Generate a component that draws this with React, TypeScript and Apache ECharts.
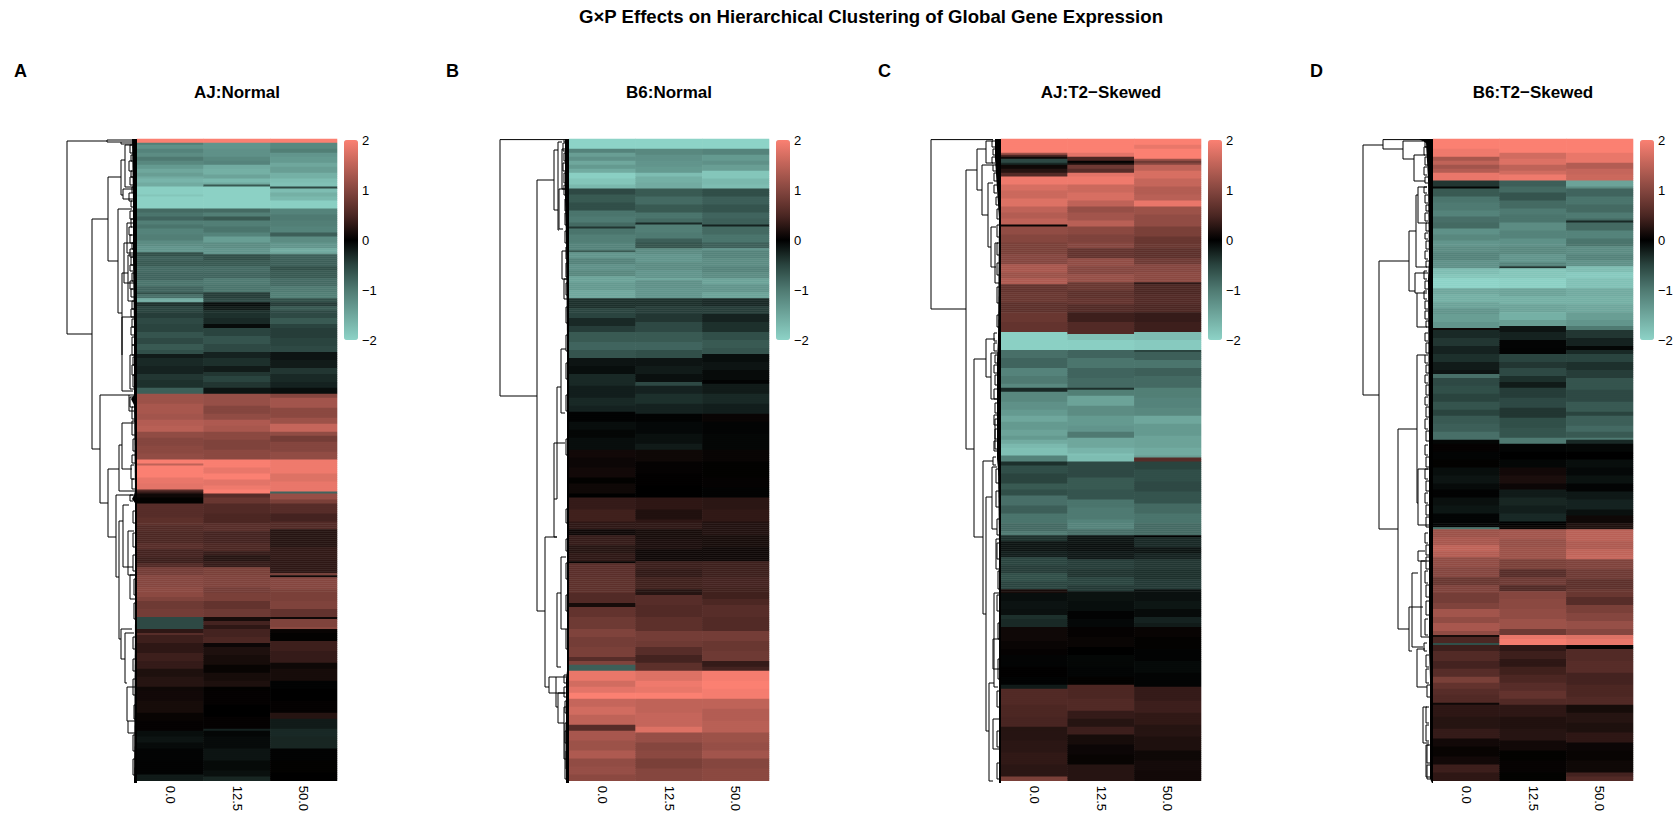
import React, { useEffect, useRef } from "react";
import * as echarts from "echarts";

type Band = [number, number];
const ROWS = 322;
const doses = ["0.0", "12.5", "50.0"];
const colorStops = ["#8DD3C7", "#6fa79d", "#4f7a72", "#2a443f", "#000000", "#4c2723", "#85463f", "#bf6358", "#FB8072"];
const barTicks = [-2, -1, 0, 1, 2];
const panelTitles = ["AJ:Normal", "B6:Normal", "AJ:T2\u2212Skewed", "B6:T2\u2212Skewed"];
const panelLetters = ["A", "B", "C", "D"];

// Each band: [end row, z-score]
const aj0: Band[] = [[2,2],[3,-1.05],[5,-1.25],[7,-1.1],[9,-1.2],[11,-1],[13,-1.15],[15,-1.35],[17,-1.5],[19,-1.4],[20,-1.55],[22,-1.65],[24,-1.55],[28,-1.95],[29,-1.85],[35,-1.98],[37,-0.85],[39,-0.95],[41,-0.8],[43,-1.05],[45,-0.95],[48,-1.1],[51,-1.05],[54,-1.2],[57,-1.3],[59,-0.6],[61,-0.75],[64,-0.7],[67,-0.85],[71,-0.8],[74,-0.95],[77,-0.8],[78,-0.6],[80,-0.9],[82,-1.55],[84,-0.35],[87,-0.5],[90,-0.45],[93,-0.55],[97,-0.5],[100,-0.65],[103,-0.55],[106,-0.7],[108,-0.6],[110,-0.2],[114,-0.3],[118,-0.25],[121,-0.4],[125,-0.35],[128,-0.75],[133,1.2],[138,1.3],[141,1.25],[144,1.4],[147,1.45],[150,1.1],[154,1],[158,1.05],[161,1.1],[163,1.98],[164,1.5],[170,2],[173,1.85],[176,1.8],[177,0.6],[178,0.35],[180,0.1],[183,0.02],[190,0.6],[194,0.65],[197,0.55],[203,0.5],[206,0.6],[210,0.45],[213,0.4],[215,0.55],[219,0.85],[225,1],[230,1.05],[232,0.95],[236,0.8],[240,0.85],[246,-0.55],[248,0.3],[249,0.6],[253,0.4],[258,0.3],[262,0.4],[266,0.35],[270,0.2],[275,0.25],[277,0.1],[282,0.12],[288,0.15],[292,0.05],[297,0.03],[300,-0.1],[303,-0.15],[306,-0.08],[312,-0.03],[319,-0.02],[322,-0.2]];
const aj125: Band[] = [[2,2],[5,-1.3],[9,-1.25],[11,-1.15],[13,-1.1],[15,-1.55],[18,-1.6],[20,-1.45],[22,-1.7],[23,-1.55],[24,-0.7],[35,-1.98],[37,-0.85],[39,-1.05],[41,-0.7],[44,-1.05],[47,-0.95],[49,-1.1],[52,-1.4],[55,-1.2],[58,-1.3],[61,-0.6],[64,-0.7],[67,-0.85],[70,-0.8],[73,-1],[77,-0.95],[80,-0.45],[82,-0.55],[84,-0.1],[86,-0.2],[90,-0.35],[93,-0.3],[95,-0.08],[99,-0.5],[103,-0.65],[107,-0.55],[110,-0.25],[114,-0.35],[117,-0.2],[119,-0.4],[122,-0.5],[125,-0.4],[128,-0.15],[134,1.15],[138,1],[141,1.1],[144,1.35],[147,1.3],[151,1.05],[156,0.95],[161,1.05],[165,1.98],[168,1.85],[171,2],[174,1.8],[176,1.9],[178,2],[180,0.6],[183,0.75],[188,0.55],[193,0.5],[197,0.6],[203,0.45],[207,0.5],[209,0.35],[212,0.25],[215,0.35],[219,0.9],[225,0.95],[228,0.85],[232,0.9],[236,0.7],[240,0.8],[242,0.15],[244,0.45],[246,0.3],[250,0.45],[253,0.5],[255,0.08],[259,0.2],[264,0.15],[268,0.05],[272,0.15],[275,0.2],[277,0.02],[284,0.03],[290,0],[296,0.03],[297,-0.25],[300,-0.05],[306,-0.08],[312,-0.15],[317,-0.07],[320,-0.12],[322,-0.28]];
const aj50: Band[] = [[2,2],[5,-1.15],[7,-1.05],[9,-1.3],[12,-1.35],[14,-1.5],[17,-1.4],[20,-1.6],[22,-1.75],[24,-1.8],[25,-0.55],[27,-1.75],[29,-1.6],[31,-1.7],[35,-1.95],[38,-1.1],[41,-1],[44,-1.05],[47,-1.1],[49,-0.75],[52,-1.2],[55,-1.3],[57,-1.55],[58,-1.4],[64,-0.75],[66,-0.6],[70,-0.7],[74,-0.85],[77,-1],[80,-1.05],[82,-0.6],[84,-0.45],[86,-0.7],[90,-0.55],[93,-0.7],[95,-0.5],[100,-0.45],[104,-0.5],[107,-0.55],[111,-0.15],[115,-0.2],[118,-0.4],[122,-0.3],[125,-0.25],[128,-0.1],[130,1],[135,1.25],[140,1.05],[143,1.2],[147,1.55],[149,1.1],[152,0.85],[157,1],[161,1.1],[168,1.9],[172,1.75],[177,1.85],[178,-0.8],[181,1.15],[183,0.9],[188,0.6],[192,0.45],[196,0.55],[205,0.25],[211,0.32],[218,0.3],[219,0.9],[220,0.1],[226,1],[232,0.9],[236,0.95],[240,0.7],[241,0.1],[245,0.95],[246,1.05],[248,0.05],[252,0.02],[257,0.4],[263,0.35],[266,0.1],[272,0.15],[276,-0.02],[282,0],[288,0.03],[291,0.25],[296,-0.2],[300,-0.3],[306,-0.28],[312,-0.02],[318,0.02],[322,0]];
const b60n: Band[] = [[5,-2],[7,-1.1],[9,-1.4],[11,-1.25],[13,-1.5],[15,-1.35],[17,-1.55],[20,-1.95],[23,-1.85],[25,-1.7],[28,-0.55],[32,-0.7],[36,-0.6],[39,-0.95],[42,-1],[44,-0.85],[45,-0.4],[48,-0.95],[52,-1.05],[56,-1.1],[57,-0.7],[60,-1.3],[63,-1.1],[66,-1.25],[69,-1.15],[72,-1.45],[76,-1.35],[80,-1.5],[85,-0.35],[90,-0.5],[94,-0.3],[97,-0.45],[102,-0.7],[106,-0.8],[110,-0.65],[114,-0.15],[118,-0.1],[124,-0.3],[130,-0.22],[134,-0.3],[137,-0.25],[142,-0.02],[146,-0.1],[150,-0.05],[156,-0.1],[160,0.12],[165,0.08],[170,0.12],[173,0.02],[178,0.1],[180,0],[186,0.35],[192,0.42],[196,0.3],[199,0.1],[204,0.35],[208,0.25],[212,0.3],[213,0.05],[220,0.62],[228,0.65],[233,0.55],[235,0.15],[240,0.7],[246,0.8],[250,0.95],[255,0.85],[260,0.9],[262,0.6],[264,0.95],[267,-0.75],[272,1.85],[275,1.65],[278,1.8],[281,2],[285,1.55],[289,1.65],[294,1.5],[297,0.6],[302,1.3],[307,1.2],[311,1.35],[315,1.1],[319,1.15],[322,1.05]];
const b6125n: Band[] = [[5,-2],[8,-1.15],[11,-1.25],[14,-1.3],[17,-1.35],[19,-1.75],[22,-1.6],[25,-1.55],[29,-0.7],[33,-0.85],[37,-0.7],[40,-0.95],[42,-0.85],[43,-0.3],[47,-1.05],[50,-1],[52,-0.75],[55,-0.65],[58,-1.2],[62,-1.3],[66,-1.2],[70,-1.3],[71,-1.5],[75,-1.25],[80,-1.3],[84,-0.35],[88,-0.45],[92,-0.4],[97,-0.55],[102,-0.7],[106,-0.8],[110,-0.6],[114,-0.15],[118,-0.2],[122,-0.12],[124,-0.55],[128,-0.25],[133,-0.35],[138,-0.25],[142,-0.02],[148,-0.06],[153,-0.12],[156,-0.2],[162,0.1],[168,0.03],[174,0.01],[180,0],[186,0.3],[191,0.22],[196,0.3],[201,0.15],[206,0.18],[212,0.1],[216,0.38],[220,0.32],[226,0.42],[229,0.25],[234,0.6],[240,0.55],[247,0.65],[252,0.85],[255,0.8],[259,0.6],[263,0.45],[267,0.65],[272,1.75],[275,1.9],[278,1.85],[281,2],[288,1.5],[295,1.55],[298,1.75],[303,1.15],[307,1],[311,1.05],[316,0.9],[322,1]];
const b650n: Band[] = [[5,-2],[8,-1.1],[11,-1.35],[13,-1.25],[16,-1.4],[20,-1.85],[23,-1.7],[25,-1.75],[29,-0.6],[33,-0.75],[37,-0.65],[40,-0.8],[43,-0.75],[44,-0.25],[48,-0.85],[52,-0.95],[55,-0.75],[56,-1.3],[60,-1.1],[64,-1.2],[67,-1.1],[70,-1.2],[73,-1.45],[77,-1.3],[80,-1.45],[84,-0.3],[88,-0.45],[92,-0.25],[97,-0.35],[101,-0.6],[105,-0.7],[108,-0.65],[112,-0.1],[116,-0.15],[121,-0.08],[123,-0.02],[128,-0.2],[133,-0.3],[138,-0.22],[142,0.06],[148,-0.03],[156,-0.05],[162,0.06],[170,0.02],[175,0.03],[180,-0.02],[186,0.28],[192,0.32],[199,0.22],[205,0.15],[212,0.1],[220,0.4],[225,0.45],[231,0.42],[234,0.5],[240,0.6],[247,0.55],[252,0.85],[257,0.75],[262,0.8],[265,0.35],[267,0.45],[272,1.95],[276,2],[281,1.95],[286,1.5],[292,1.4],[298,1.45],[303,1.2],[307,1.15],[311,1.25],[316,1],[322,1.05]];
const aj0t: Band[] = [[7,2],[8,1.2],[9,0.5],[10,0.1],[12,-0.55],[13,-0.3],[15,0.1],[17,0.25],[19,0.55],[23,1.9],[26,1.7],[30,1.6],[34,1.75],[37,1.5],[40,1.4],[43,1.5],[44,0.05],[48,1.1],[52,1],[58,0.9],[63,1],[67,1.3],[70,1.2],[73,1.35],[77,0.7],[82,0.75],[87,0.65],[92,0.75],[97,0.7],[106,-1.97],[110,-0.9],[115,-0.8],[119,-1.1],[123,-1],[125,-1.15],[127,-0.3],[132,-1.15],[136,-1.25],[139,-1.35],[142,-1.5],[146,-1.35],[149,-1.45],[151,-1.35],[153,-1.55],[155,-1.7],[159,-1.78],[162,-1.1],[164,-0.35],[168,-0.6],[173,-0.5],[176,-0.7],[179,-0.6],[184,-0.9],[188,-0.75],[193,-0.95],[197,-0.85],[199,-1],[202,-0.35],[207,-0.15],[210,-0.22],[214,-0.5],[218,-0.45],[222,-0.6],[226,-0.5],[228,0.15],[232,-0.1],[236,-0.14],[239,-0.12],[241,-0.35],[245,-0.3],[252,0.1],[256,0.06],[259,0.03],[265,-0.03],[270,0.01],[274,-0.02],[276,-0.2],[284,0.55],[290,0.5],[295,0.48],[302,0.25],[308,0.28],[314,0.32],[320,0.28],[322,0.9]];
const aj125t: Band[] = [[7,2],[9,1.8],[11,0.5],[12,-0.02],[13,0.2],[15,0.8],[17,0.6],[19,1.8],[23,1.9],[27,1.6],[31,1.7],[34,1.5],[37,1.15],[41,1.25],[44,1.45],[48,1.05],[52,0.95],[55,1],[60,0.7],[64,1.1],[68,1],[72,1.15],[76,0.75],[80,0.65],[83,0.7],[87,0.55],[92,0.4],[98,0.55],[101,-1.8],[106,-1.95],[110,-0.8],[115,-0.95],[120,-0.8],[125,-0.85],[126,-0.35],[129,-1.05],[134,-1.45],[139,-1.2],[144,-1.35],[147,-1.3],[150,-1],[155,-1.5],[158,-1.65],[159,-1.8],[162,-1.75],[164,-0.55],[170,-0.55],[176,-0.7],[181,-0.65],[185,-0.95],[191,-1],[196,-1.1],[199,-0.9],[203,-0.15],[207,-0.12],[211,-0.18],[216,-0.45],[220,-0.38],[224,-0.5],[227,-0.42],[232,-0.13],[237,-0.1],[241,-0.02],[245,-0.06],[250,0.03],[255,0.06],[259,0],[265,-0.05],[270,-0.04],[274,0.02],[281,0.5],[287,0.55],[291,0.35],[295,0.25],[299,0.4],[304,0.15],[309,0.08],[314,0.05],[317,0.25],[322,0.25]];
const aj50t: Band[] = [[3,2],[5,1.85],[10,2],[11,1.2],[12,0.8],[13,1],[16,1.5],[20,1.7],[24,1.55],[28,1.4],[31,1.45],[34,1.85],[38,1.2],[44,1.1],[49,0.9],[55,0.75],[60,0.65],[63,0.8],[67,1],[72,1.05],[73,0.3],[78,0.5],[83,0.55],[87,0.5],[92,0.35],[97,0.4],[101,-1.75],[106,-1.9],[107,-0.5],[111,-0.75],[115,-0.95],[119,-0.75],[125,-0.85],[130,-1.05],[135,-1.1],[139,-1.15],[143,-1.5],[149,-1.35],[155,-1.45],[159,-1.55],[160,-1.4],[162,0.6],[166,-0.5],[172,-0.6],[177,-0.55],[183,-0.65],[188,-0.85],[193,-0.95],[199,-0.85],[200,0],[205,-0.3],[208,-0.15],[211,-0.25],[216,-0.4],[221,-0.35],[226,-0.42],[232,-0.12],[236,-0.16],[240,-0.08],[243,-0.25],[245,-0.2],[250,0.05],[256,0.02],[262,-0.02],[268,-0.07],[275,-0.03],[282,0.35],[288,0.4],[294,0.32],[300,0.25],[307,0.2],[312,0.1],[317,0.14],[322,0.12]];
const b60t: Band[] = [[5,2],[9,1.9],[11,1.3],[13,1.5],[15,1.25],[17,1.4],[21,1.85],[24,-0.4],[25,-0.05],[29,-0.7],[32,-0.95],[36,-1],[39,-1.1],[42,-0.9],[45,-0.85],[48,-1.25],[51,-1.15],[54,-1.3],[57,-1.2],[61,-1.1],[65,-1.25],[68,-1.75],[70,-1.85],[75,-2],[78,-1.5],[82,-1.6],[85,-1.45],[88,-1.3],[92,-1.4],[95,-1.3],[96,0.1],[100,-0.3],[104,-0.4],[108,-0.25],[112,-0.35],[116,-0.2],[118,-0.15],[120,-0.9],[124,-0.55],[128,-0.6],[132,-0.5],[136,-0.65],[139,-0.5],[143,-0.7],[147,-0.75],[151,-0.9],[153,-0.05],[157,0.03],[161,-0.03],[165,0.02],[169,-0.1],[173,-0.15],[176,-0.08],[180,-0.02],[184,-0.12],[188,-0.16],[192,-0.04],[195,-0.03],[196,-0.95],[200,1.2],[204,1.3],[207,1.5],[210,1.4],[215,1.1],[220,1],[224,0.75],[228,0.95],[233,0.85],[236,0.95],[240,1.25],[243,1.1],[247,1.3],[249,1.1],[250,0.15],[253,0.5],[254,-0.6],[257,0.4],[262,0.55],[266,0.45],[270,0.6],[273,0.9],[276,0.7],[279,0.6],[283,0.55],[284,0.1],[290,0.3],[296,0.25],[301,0.35],[305,0.12],[310,0.05],[314,0.12],[318,0.4],[322,0.3]];
const b6125t: Band[] = [[7,2],[10,1.65],[13,1.75],[16,1.5],[18,1.65],[21,1.9],[24,-0.75],[27,-0.85],[31,-0.65],[35,-0.85],[38,-1],[42,-0.95],[46,-1.2],[50,-1.1],[54,-1.25],[58,-1.15],[62,-1.3],[64,-1.1],[65,-0.4],[70,-1.85],[75,-1.97],[79,-1.45],[83,-1.6],[87,-1.45],[91,-1.6],[94,-1.4],[97,-0.15],[101,-0.25],[105,-0.03],[108,-0.02],[112,-0.5],[115,-0.4],[119,-0.55],[122,-0.35],[125,-0.2],[130,-0.45],[135,-0.55],[140,-0.4],[145,-0.6],[150,-0.65],[153,-1],[157,-0.03],[161,0],[165,-0.05],[169,0.12],[173,0.18],[176,0.08],[180,-0.2],[184,-0.28],[188,-0.22],[192,-0.3],[194,0],[196,0.05],[201,1.25],[205,1.15],[211,1.2],[216,0.9],[220,0.6],[224,0.8],[227,0.55],[231,1],[236,1.05],[241,1.1],[246,1.2],[249,0.8],[251,1.85],[254,1.95],[257,0.3],[261,0.4],[265,0.3],[269,0.42],[273,0.5],[277,0.6],[281,0.7],[284,0.55],[290,0.3],[296,0.22],[302,0.25],[307,0.12],[312,0.02],[318,0.04],[322,0.02]];
const b650t: Band[] = [[7,2],[12,1.85],[15,1.4],[18,1.55],[21,1.6],[24,-1.45],[25,-1.2],[29,-0.8],[33,-0.95],[37,-0.85],[40,-1],[41,-0.85],[42,-0.3],[46,-0.85],[50,-1.1],[54,-0.95],[58,-1.2],[61,-1.1],[64,-1.25],[67,-1.75],[70,-1.9],[75,-1.8],[79,-1.55],[83,-1.6],[87,-1.5],[91,-1.4],[94,-1.3],[96,-1],[100,-0.4],[104,-0.25],[106,-0.05],[108,-0.3],[112,-0.5],[116,-0.35],[120,-0.45],[126,-0.65],[132,-0.55],[137,-0.7],[139,-0.5],[144,-0.75],[147,-0.85],[150,-0.7],[151,-1],[153,-0.3],[157,-0.05],[161,0],[165,-0.1],[169,-0.06],[173,-0.13],[177,-0.03],[181,-0.18],[186,-0.25],[189,-0.12],[193,0.1],[196,0.2],[202,1.45],[206,1.35],[209,1.5],[211,1.55],[216,0.95],[221,0.8],[226,0.65],[230,0.75],[234,0.6],[238,0.9],[242,1],[246,1.15],[249,1],[251,1.75],[254,1.85],[256,0.05],[262,0.55],[268,0.6],[274,0.45],[280,0.5],[284,0.55],[288,0.15],[293,0.25],[298,0.2],[303,0.3],[307,0.08],[312,0.05],[318,0.1],[320,0.45],[322,0.55]];

// Dendrogram brackets: [merge height, row a, row b, child height a, child height b]
const ajTree = [[70,1,97.5,30,45],[30,0.5,1.5,0,16],[16,1.5,2.5,0,0],[45,40,155,29,37],[29,19,61,16,19],[16,10.5,28,12,14],[12,3,24,5,4],[14,25,30,4,4],[19,35,87,5,15],[10,42,57,3,3],[13,52,72,4,3],[15,67,108,9,15],[9,58,81,2,3],[15,89,126,3,4],[7,108,125,2,2],[37,128,182,8,29],[8,128,136,2,3],[29,165,199,18,21],[18,153,176,15,2],[15,142,165,3,5],[21,178,219,3,18],[18,191,250,14,16],[14,183,214,8,4],[9,196,218,3,2],[7,218,230,2,2],[16,245,260,5,12],[12,247,272,3,10],[10,274,291,2,9],[9,291,297,2,2]];
const b6nTree = [[69,0.3,128.5,5,32],[5,0.3,1.5,0,2],[32,20.5,236,15,24],[15,5.5,35.5,11,11],[11,1.5,45.5,7,10],[7,5,25,3,3],[10,25,45,4,6],[7,56,70,3,2],[5,70,80,2,2],[8,105,137,3,4],[12,124,180,8,15],[15,152,199,4,12],[24,199,274,12,20],[12,227,264,8,8],[8,209,245,3,3],[20,269,277,13,2],[13,269,284,2,11],[11,277,292,4,5],[5,284,310,2,2],[4,292,320,2,2]];
const aj2Tree = [[70,0.3,85,8,35],[35,15.5,155,24,27],[24,5,25.5,15,19],[15,1,12,8,8],[19,13,38,8,13],[13,22,54,8,10],[10,44,64,5,5],[6,52,72,3,2],[27,110,199,15,18],[15,100,119,6,10],[10,107,130,3,4],[6,140,155,3,3],[18,161,237.5,8,15],[15,179,296,9,12],[9,164,195,4,4],[12,272,321,7,8],[7,227,274,2,3],[8,290,305,2,2],[8,250,265,2,2],[5,200,215,2,2]];
const b62Tree = [[70,3,128,50,54],[50,0.3,5,0,30],[30,1,10,10,19],[19,8,21,8,8],[54,61,195,24,35],[24,46,76,17,18],[17,28,64,15,6],[15,24,42,6,6],[18,67,77,5,16],[16,77,94,6,6],[35,145,245,16,24],[16,108,182,8,15],[15,165,193,4,4],[24,234,256,10,21],[21,217,254,15,10],[15,206,211,8,8],[12,211,249,4,4],[16,255,274,8,6],[10,284,302,6,4],[7,303,319,4,3]];

// Small twigs next to the leaves: [merge height, row a, row b]
const ajTwigs = [[7,3,7],[6,8,11],[8,11,16],[6,16,19],[7,19,23],[5,24,27],[8,27,31],[6,31,34],[7,36,40],[6,40,44],[8,44,48],[7,48,52],[5,52,55],[7,55,59],[6,59,63],[7,63,66],[5,67,71],[7,71,75],[6,75,79],[5,81,85],[6,85,89],[5,90,94],[6,94,98],[5,99,103],[5,103,108],[4,109,113],[5,113,118],[4,118,124],[7,129,134],[5,134,140],[5,141,148],[4,150,156],[5,158,162],[6,163,170],[5,170,175],[7,178,181],[4,186,192],[4,197,204],[4,208,216],[3,220,228],[3,232,240],[4,249,255],[4,260,266],[4,270,278],[3,283,290],[4,298,306],[4,310,318]];
const b6nTwigs = [[6,2,6],[5,7,11],[6,12,16],[5,17,22],[5,23,28],[4,30,36],[4,37,43],[4,46,52],[3,54,60],[3,62,69],[3,72,78],[3,84,92],[3,98,106],[3,112,120],[3,128,136],[3,150,158],[3,185,192],[3,200,206],[3,212,220],[3,228,236],[3,245,255],[5,268,272],[5,274,279],[4,281,287],[4,296,302],[3,306,315]];
const aj2Twigs = [[9,1,4],[8,5,8],[9,9,12],[8,13,16],[7,17,21],[7,23,27],[5,29,33],[4,35,40],[4,43,49],[4,52,58],[4,62,68],[4,74,82],[4,88,94],[7,97,101],[7,102,106],[6,108,112],[7,113,117],[6,118,123],[7,125,130],[6,132,137],[7,138,143],[6,145,150],[7,151,156],[8,159,163],[5,165,172],[5,176,184],[4,190,198],[4,202,210],[3,216,225],[4,228,236],[3,242,250],[3,260,270],[4,276,284],[4,296,304],[4,312,320]];
const b62Twigs = [[8,1,4],[9,4,8],[8,9,13],[9,14,18],[8,19,22],[9,24,27],[8,28,32],[7,33,36],[8,37,41],[7,42,46],[8,47,50],[7,51,55],[8,56,60],[7,61,64],[9,66,70],[8,71,75],[9,76,80],[8,81,85],[8,86,90],[7,91,94],[8,97,101],[7,102,107],[8,108,112],[7,113,117],[8,118,122],[7,123,128],[8,129,133],[7,134,139],[8,140,145],[7,146,151],[8,153,158],[7,159,164],[8,165,170],[7,171,176],[8,177,182],[7,183,188],[7,189,194],[8,197,202],[7,203,208],[7,209,215],[8,216,222],[7,223,229],[7,231,238],[8,240,248],[9,252,256],[7,258,264],[7,265,272],[6,273,279],[7,284,292],[7,293,301],[6,303,312],[6,313,320]];

// Black mass of leaf branches: [row, height]
const ajLeaves = [[0,5],[30,4],[60,4],[95,3],[128,3],[130,6],[133,3],[176,2],[178,3],[180,5],[182,2],[240,2],[322,3]];
const b6nLeaves = [[0,4],[30,4],[50,3],[100,2],[266,2],[270,3],[322,3]];
const aj2Leaves = [[0,6],[10,6],[25,4],[40,2],[100,3],[110,4],[160,4],[165,3],[200,2],[322,2]];
const b62Leaves = [[0,14],[2,7],[20,5],[60,4],[70,5],[150,4],[255,4],[270,3],[320,3],[322,1]];

const panelColumns = [[aj0, aj125, aj50], [b60n, b6125n, b650n], [aj0t, aj125t, aj50t], [b60t, b6125t, b650t]];
const panelTrees = [ajTree, b6nTree, aj2Tree, b62Tree];
const panelTwigs = [ajTwigs, b6nTwigs, aj2Twigs, b62Twigs];
const panelLeaves = [ajLeaves, b6nLeaves, aj2Leaves, b62Leaves];

const FONT = "'Liberation Sans', Arial, sans-serif";
const heatLefts = [137, 569, 1001, 1433];
const titleCentres = [237, 669, 1101, 1533];
const letterLefts = [14, 446, 878, 1310];
const rowNames = Array.from({ length: ROWS }, (_, i) => String(i));

function expand(col: Band[], x: number) {
  const out: number[][] = [];
  let k = 0;
  for (let r = 0; r < ROWS; r++) {
    while (k < col.length - 1 && r >= col[k][0]) k++;
    out.push([x, r, col[k][1]]);
  }
  return out;
}

function buildOption() {
  const grid: any[] = [], xAxis: any[] = [], yAxis: any[] = [], series: any[] = [], visualMap: any[] = [], title: any[] = [];
  title.push({ text: "G\u00d7P Effects on Hierarchical Clustering of Global Gene Expression", left: 871, top: 7, textAlign: "center", padding: 0, textStyle: { fontFamily: FONT, fontWeight: "bold", fontSize: 18.6, color: "#000" } });
  panelTitles.forEach((t, i) => {
    const L = heatLefts[i];
    title.push({ text: t, left: titleCentres[i], top: 84, textAlign: "center", padding: 0, textStyle: { fontFamily: FONT, fontWeight: "bold", fontSize: 17, color: "#000" } });
    title.push({ text: panelLetters[i], left: letterLefts[i], top: 62, padding: 0, textStyle: { fontFamily: FONT, fontWeight: "bold", fontSize: 18, color: "#000" } });
    const g = i * 3;
    grid.push({ left: L, top: 139, width: 200, height: 644 });
    xAxis.push({ gridIndex: g, type: "category", data: doses, axisLine: { show: false }, axisTick: { show: false }, axisLabel: { rotate: -90, margin: 5, fontFamily: FONT, fontSize: 13, color: "#000" } });
    yAxis.push({ gridIndex: g, type: "category", data: rowNames, inverse: true, show: false });
    grid.push({ left: L - 80, top: 139, width: 80, height: 644 });
    xAxis.push({ gridIndex: g + 1, type: "value", min: 0, max: 80, inverse: true, show: false });
    yAxis.push({ gridIndex: g + 1, type: "value", min: 0, max: ROWS, inverse: true, show: false });
    grid.push({ left: L + 207, top: 140, width: 14, height: 200 });
    xAxis.push({ gridIndex: g + 2, type: "value", min: 0, max: 1, show: false });
    yAxis.push({ gridIndex: g + 2, type: "value", min: barTicks[0], max: barTicks[4], interval: 1, position: "right", axisLine: { show: false }, axisTick: { show: false }, splitLine: { show: false }, axisLabel: { margin: 4, fontFamily: FONT, fontSize: 13, color: "#000", formatter: (v: number) => String(v).replace("-", "\u2212") } });

    series.push({
      type: "heatmap", xAxisIndex: g, yAxisIndex: g, progressive: 0, silent: true,
      data: panelColumns[i].flatMap((c, x) => expand(c, x)), emphasis: { disabled: true },
    });
    visualMap.push({
      type: "continuous", seriesIndex: series.length - 1, min: -2, max: 2, dimension: 2, inRange: { color: colorStops },
      left: L + 207, top: 140, itemWidth: 14, itemHeight: 200, padding: 0, showLabel: false, text: ["", ""], calculable: false, hoverLink: false, realtime: false,
    });
    const twigBrackets = panelTwigs[i].map((t) => [t[0], t[1], t[2], Math.max(t[0] - 3, 1), Math.max(t[0] - 3, 1)]);
    series.push({
      type: "custom", xAxisIndex: g + 1, yAxisIndex: g + 1, silent: true, clip: false,
      encode: { x: [0, 3, 4], y: [1, 2] }, data: [...panelTrees[i], ...twigBrackets],
      renderItem: (_: any, api: any) => {
        const a = api.coord([api.value(3), api.value(1)]);
        const b = api.coord([api.value(0), api.value(1)]);
        const c = api.coord([api.value(0), api.value(2)]);
        const d = api.coord([api.value(4), api.value(2)]);
        return { type: "polyline", shape: { points: [a, b, c, d] }, style: { stroke: "#000", lineWidth: 1, fill: "none" }, silent: true };
      },
    });
    const lv = panelLeaves[i];
    series.push({
      type: "custom", xAxisIndex: g + 1, yAxisIndex: g + 1, silent: true, clip: false,
      encode: { x: [1, 3], y: [0, 2] }, data: lv.slice(0, -1).map((p, k) => [p[0], p[1], lv[k + 1][0], lv[k + 1][1]]),
      renderItem: (_: any, api: any) => {
        const pts = [[0, api.value(0)], [api.value(1), api.value(0)], [api.value(3), api.value(2)], [0, api.value(2)]].map((p) => api.coord(p));
        return { type: "polygon", shape: { points: pts }, style: { fill: "#000" }, silent: true };
      },
    });
  });
  return { animation: false, backgroundColor: "#fff", title, grid, xAxis, yAxis, series, visualMap, tooltip: { show: false } };
}

export default function App() {
  const ref = useRef<HTMLDivElement>(null);
  useEffect(() => {
    document.body.style.margin = "0";
    const chart = echarts.init(ref.current!, undefined, { renderer: "svg" });
    chart.setOption(buildOption() as any);
    return () => chart.dispose();
  }, []);
  return <div ref={ref} style={{ width: 1680, height: 814 }} />;
}
